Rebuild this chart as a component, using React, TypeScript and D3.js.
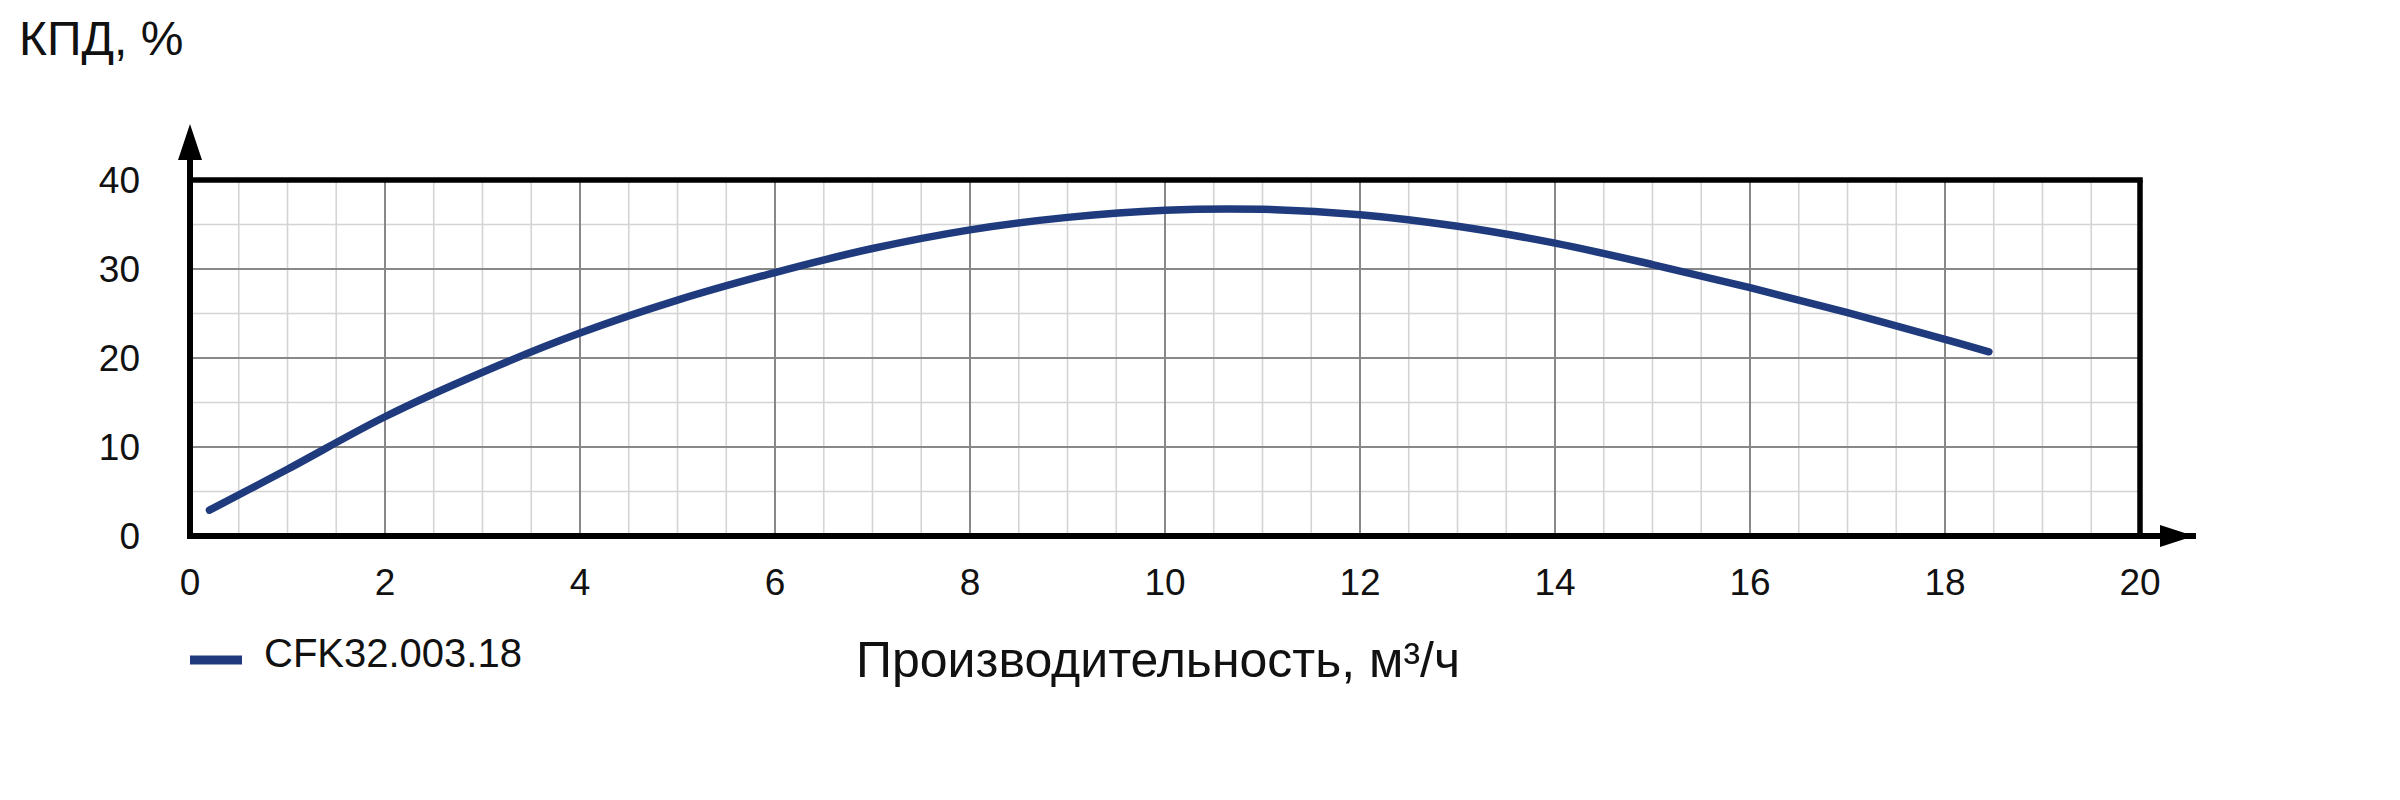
import React from "react";
import * as d3 from "d3";

const flowQ = [0.2, 1, 2, 3, 4, 5, 6, 7, 8, 9, 10, 11, 12, 13, 14, 15, 16, 17, 18, 18.45];
const efficiency = [2.9, 7.5, 13.4, 18.4, 22.8, 26.5, 29.6, 32.3, 34.4, 35.8, 36.6, 36.7, 36.1, 34.8, 32.9, 30.5, 27.9, 25.1, 22.1, 20.7];
const xTicks = [0, 2, 4, 6, 8, 10, 12, 14, 16, 18, 20];
const yTicks = [0, 10, 20, 30, 40];
const seriesName = "CFK32.003.18";
const yTitle = "КПД, %";
const xTitle = "Производительность, м³/ч";

const FONT = "'Liberation Sans', Arial, Helvetica, sans-serif";
const LINE_COLOR = "#1f3b7d";

export default function App() {
  const left = 190, right = 2140, top = 180, bottom = 536;
  const x = d3.scaleLinear().domain([0, 20]).range([left, right]);
  const y = d3.scaleLinear().domain([0, 40]).range([bottom, top]);

  const minorX = d3.range(0.5, 20, 0.5).filter((v) => Math.abs(v % 2) > 1e-9);
  const majorX = d3.range(2, 20, 2);
  const minorY = [5, 15, 25, 35];
  const majorY = [10, 20, 30];

  const pts: [number, number][] = flowQ.map((q, i) => [q, efficiency[i]]);
  const line = d3
    .line<[number, number]>()
    .x((d) => x(d[0]))
    .y((d) => y(d[1]))
    .curve(d3.curveCatmullRom.alpha(0.5));

  return (
    <svg
      width={2400}
      height={800}
      style={{ position: "absolute", left: 0, top: 0, background: "#fff" }}
      fontFamily={FONT}
    >
      <rect x={0} y={0} width={2400} height={800} fill="#fff" />
      {/* minor grid */}
      {minorX.map((v) => (
        <line key={"mx" + v} x1={x(v)} x2={x(v)} y1={top} y2={bottom} stroke="#d4d4d4" strokeWidth={1.6} />
      ))}
      {minorY.map((v) => (
        <line key={"my" + v} x1={left} x2={right} y1={y(v)} y2={y(v)} stroke="#d4d4d4" strokeWidth={1.6} />
      ))}
      {/* major grid */}
      {majorX.map((v) => (
        <line key={"Mx" + v} x1={x(v)} x2={x(v)} y1={top} y2={bottom} stroke="#888" strokeWidth={2} />
      ))}
      {majorY.map((v) => (
        <line key={"My" + v} x1={left} x2={right} y1={y(v)} y2={y(v)} stroke="#888" strokeWidth={2} />
      ))}
      {/* frame */}
      <line x1={left} x2={right + 2.75} y1={top} y2={top} stroke="#000" strokeWidth={5.5} />
      <line x1={right} x2={right} y1={top} y2={bottom} stroke="#000" strokeWidth={5.5} />
      {/* axes */}
      <line x1={left} x2={left} y1={bottom + 3} y2={150} stroke="#000" strokeWidth={6} />
      <polygon points={`${left - 12},160 ${left + 12},160 ${left},124`} fill="#000" />
      <line x1={left - 3} x2={2196} y1={bottom} y2={bottom} stroke="#000" strokeWidth={6} />
      <polygon points={`2160,${bottom - 11} 2160,${bottom + 11} 2194,${bottom}`} fill="#000" />

      {/* curve */}
      <path d={line(pts) || ""} fill="none" stroke={LINE_COLOR} strokeWidth={7.5} strokeLinecap="round" strokeLinejoin="round" />

      {/* tick labels */}
      {yTicks.map((v) => (
        <text key={"yt" + v} x={140} y={y(v) + 13} textAnchor="end" fontSize={37} fill="#111">
          {v}
        </text>
      ))}
      {xTicks.map((v) => (
        <text key={"xt" + v} x={x(v)} y={595} textAnchor="middle" fontSize={37} fill="#111">
          {v}
        </text>
      ))}

      {/* titles */}
      <text x={19} y={55} fontSize={48} fill="#111">
        {yTitle}
      </text>
      <text x={1158} y={677} textAnchor="middle" fontSize={50} fill="#111">
        {xTitle}
      </text>

      {/* legend */}
      <line x1={190} x2={242} y1={660} y2={660} stroke={LINE_COLOR} strokeWidth={9} />
      <text x={264} y={667} fontSize={40} fill="#111">
        {seriesName}
      </text>
    </svg>
  );
}
